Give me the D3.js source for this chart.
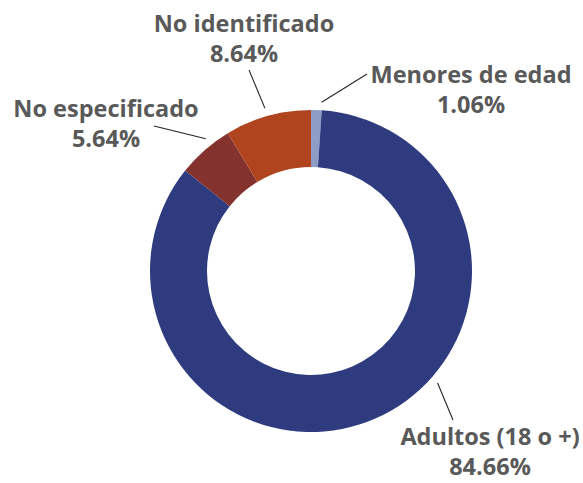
<!DOCTYPE html>
<html>
<head>
<meta charset="utf-8">
<script src="https://cdn.jsdelivr.net/npm/d3@7"></script>
<style>
  html, body { margin: 0; padding: 0; background: #fff; }
  svg { display: block; }
  .label { font-family: 'Open Sans', Lato, sans-serif; font-weight: 700; fill: #595959; }
</style>
</head>
<body>
<svg width="583" height="483"></svg>
<script>
// data, in the order it is drawn (clockwise from 12 o'clock)
const categories = ['Menores de edad', 'Adultos (18 o +)', 'No especificado', 'No identificado'];
const percents = [1.06, 84.66, 5.64, 8.64];
const colors = ['#8E9DC6', '#2F3B7F', '#84322D', '#AF441E'];

const svg = d3.select('svg');

const cx = 311, cy = 271;
const outerRadius = 161;
const innerRadius = 104;

// label placement, relative to the center of the donut
// dx/dy = text centre / first baseline, lineAngle = where the leader leaves the ring,
// end = leader end point relative to the text
const labelLayout = {
  'Menores de edad':  { dx: 160,  dy: -188, lineAngle: 3.6,   end: [-104, -9] },
  'Adultos (18 o +)': { dx: 179,  dy: 174,  lineAngle: 131.5, end: [-37, -25] },
  'No especificado':  { dx: -205, dy: -154, lineAngle: 321.5, end: [48, 9] },
  'No identificado':  { dx: -67,  dy: -239, lineAngle: 344.2, end: [5, 38] }
};
const lineHeight = 30;

const data = categories.map((c, i) => ({ name: c, value: percents[i], color: colors[i] }));

const pie = d3.pie()
  .value(d => d.value)
  .sort(null)
  .startAngle(0)
  .endAngle(2 * Math.PI);

const arc = d3.arc()
  .innerRadius(innerRadius)
  .outerRadius(outerRadius);

const g = svg.append('g')
  .attr('transform', `translate(${cx},${cy})`);

g.selectAll('path.slice')
  .data(pie(data))
  .enter().append('path')
    .attr('class', 'slice')
    .attr('d', arc)
    .attr('fill', d => d.data.color);

// leader lines
const toRad = a => a * Math.PI / 180;
g.selectAll('line.leader')
  .data(data)
  .enter().append('line')
    .attr('class', 'leader')
    .attr('x1', d => Math.sin(toRad(labelLayout[d.name].lineAngle)) * (outerRadius + 8))
    .attr('y1', d => -Math.cos(toRad(labelLayout[d.name].lineAngle)) * (outerRadius + 8))
    .attr('x2', d => labelLayout[d.name].dx + labelLayout[d.name].end[0])
    .attr('y2', d => labelLayout[d.name].dy + labelLayout[d.name].end[1])
    .attr('stroke', '#262626')
    .attr('stroke-width', 1.1);

// labels: name on the first line, percentage below
const labels = g.selectAll('text.label')
  .data(data)
  .enter().append('text')
    .attr('class', 'label')
    .attr('text-anchor', 'middle')
    .attr('font-size', 23.5)
    .attr('x', d => labelLayout[d.name].dx)
    .attr('y', d => labelLayout[d.name].dy);

labels.append('tspan')
  .attr('x', d => labelLayout[d.name].dx)
  .text(d => d.name);

labels.append('tspan')
  .attr('x', d => labelLayout[d.name].dx)
  .attr('dy', lineHeight)
  .text(d => d3.format('.2f')(d.value) + '%');
</script>
</body>
</html>
